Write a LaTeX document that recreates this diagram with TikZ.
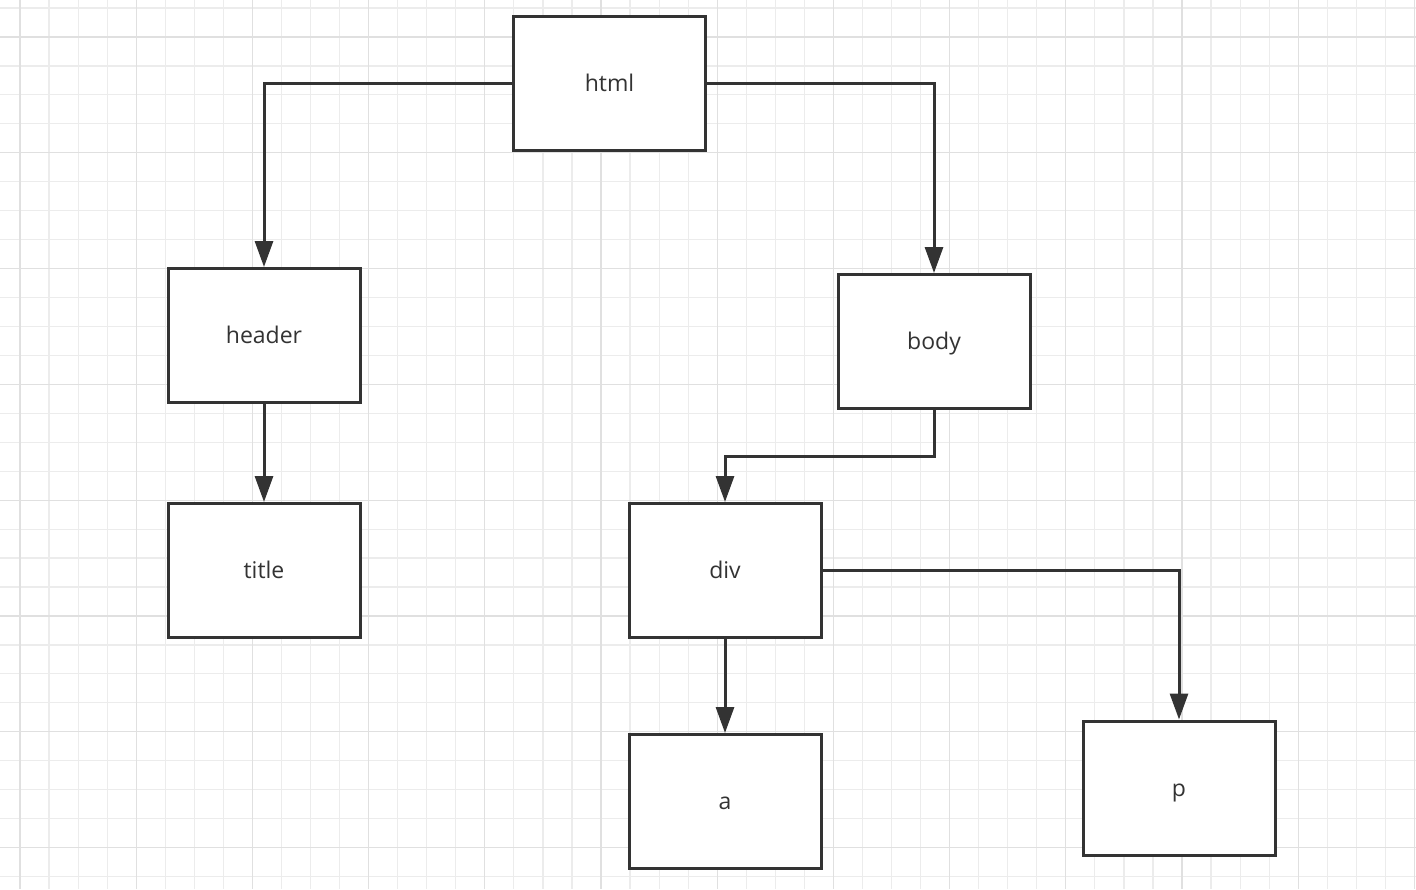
\documentclass[tikz,border=0pt]{standalone}
\usepackage{fontspec}
\setmainfont{Open Sans}
\usetikzlibrary{arrows.meta}
\definecolor{ink}{HTML}{333333}
\definecolor{gridminor}{HTML}{ECECEC}
\definecolor{gridmajor}{HTML}{E0E0E0}
\begin{document}
\begin{tikzpicture}[x=1pt,y=-1pt,
  box/.style={draw=ink,line width=3pt,fill=white,minimum width=192pt,minimum height=134pt,
    inner sep=0pt,text height=16.5pt,text depth=0pt,font=\fontsize{23}{28}\selectfont,text=ink},
  link/.style={draw=ink,line width=3pt,-{Triangle[length=26pt,width=18pt]}},
  gridline/.style={line width=1.2pt}]
\fill[white] (0,0) rectangle (1416,889);
\useasboundingbox (0,0) rectangle (1416,889);
% grid
\foreach \i in {0,...,48} \draw[gridline,gridminor] ({20+29.05*\i},0) -- ({20+29.05*\i},889);
\foreach \j in {0,...,30} \draw[gridline,gridminor] (0,{8+28.95*\j}) -- (1416,{8+28.95*\j});
\foreach \i in {0,4,...,48} \draw[gridline,gridmajor] ({20+29.05*\i},0) -- ({20+29.05*\i},889);
\foreach \j in {1,5,...,29} \draw[gridline,gridmajor] (0,{8+28.95*\j}) -- (1416,{8+28.95*\j});
% nodes
\node[box] (html)   at (609.5,83)  {html};
\node[box] (header) at (264,335.5) {header};
\node[box] (body)   at (934,341.5) {body};
\node[box] (title)  at (264,570.5) {title};
\node[box] (div)    at (725,570.5) {div};
\node[box] (a)      at (725,801.5) {a};
\node[box] (p)      at (1179,788)  {p};
\coordinate (bend) at (829.5,456);
% connectors
\draw[link] (html.west) -| (header.north);
\draw[link] (html.east) -| (body.north);
\draw[link] (header) -- (title);
\draw[link] (body.south) |- (bend) -| (div.north);
\draw[link] (div.east) -| (p.north);
\draw[link] (div) -- (a);
\end{tikzpicture}
\end{document}
